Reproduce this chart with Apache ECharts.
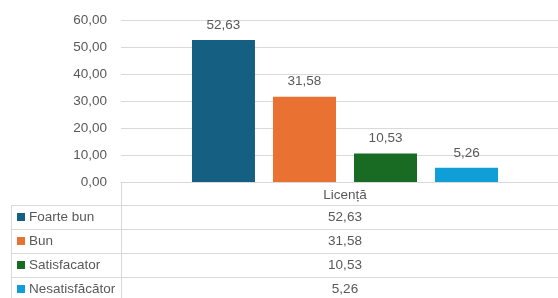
<!DOCTYPE html>
<html><head><meta charset="utf-8">
<script src="https://cdn.jsdelivr.net/npm/echarts@6/dist/echarts.min.js"></script>
<style>html,body{margin:0;padding:0;background:#fff}#c{width:558px;height:298px}</style>
</head><body><div id="c"></div>
<script>
const categories = ['Licență'];
const seriesNames = ['Foarte bun', 'Bun', 'Satisfacator', 'Nesatisfăcător'];
const seriesValues = [[52.63], [31.58], [10.53], [5.26]];
const seriesColors = ['#156082', '#E97132', '#196B24', '#0F9ED5'];
const yTicks = [0, 10, 20, 30, 40, 50, 60];

const fmt = v => v.toFixed(2).replace('.', ',');
const FONT = 'Liberation Sans';
const TXT = '#595959';
const LINE = '#d9d9d9';
const FS = 13.5;

const chart = echarts.init(document.getElementById('c'), null, {renderer: 'canvas'});

const gridLeft = 121, gridTop = 20, gridH = 162, gridW = 448;
const tableLeft = 11, rowH = 24, headerBottom = 205;

const series = seriesNames.map((n, i) => ({
  name: n, type: 'bar', data: seriesValues[i], barWidth: 63, barGap: '28.6%',
  itemStyle: {color: seriesColors[i]},
  label: {show: true, position: 'top', distance: 8, formatter: p => fmt(p.value),
    color: TXT, fontFamily: FONT, fontSize: FS}
}));

chart.setOption({
  animation: false,
  grid: {left: gridLeft, top: gridTop, width: gridW, height: gridH, containLabel: false, outerBoundsMode: 'none'},
  xAxis: {type: 'category', data: categories,
    axisLine: {show: true, lineStyle: {color: LINE}}, axisTick: {show: false},
    axisLabel: {color: TXT, fontFamily: FONT, fontSize: FS, margin: 6}},
  yAxis: {type: 'value', min: yTicks[0], max: yTicks[yTicks.length - 1], interval: 10,
    axisLine: {show: false}, axisTick: {show: false},
    splitLine: {lineStyle: {color: LINE}},
    axisLabel: {color: TXT, fontFamily: FONT, fontSize: FS, margin: 14, formatter: v => fmt(v)}},
  series: series
});

// data table below
const colCenter = chart.convertToPixel({xAxisIndex: 0}, categories[0]);
const g = [];
const axisY = gridTop + gridH;
const bottom = 320;
g.push({type: 'line', shape: {x1: gridLeft + 0.5, y1: axisY, x2: gridLeft + 0.5, y2: bottom}, style: {stroke: LINE, lineWidth: 1}});
g.push({type: 'line', shape: {x1: tableLeft + 0.5, y1: headerBottom, x2: tableLeft + 0.5, y2: bottom}, style: {stroke: LINE, lineWidth: 1}});
seriesNames.forEach((n, i) => {
  const yTop = headerBottom + i * rowH;
  g.push({type: 'line', shape: {x1: tableLeft, y1: yTop + 0.5, x2: 558, y2: yTop + 0.5}, style: {stroke: LINE, lineWidth: 1}});
  const cy = yTop + rowH / 2;
  g.push({type: 'rect', shape: {x: 17, y: cy - 4, width: 8, height: 8}, style: {fill: seriesColors[i]}});
  g.push({type: 'text', x: 29, y: cy, style: {text: n, fill: TXT, font: FS + 'px "' + FONT + '"', textVerticalAlign: 'middle', verticalAlign: 'middle'}});
  g.push({type: 'text', x: colCenter, y: cy, style: {text: fmt(seriesValues[i][0]), fill: TXT, font: FS + 'px "' + FONT + '"', textAlign: 'center', align: 'center', textVerticalAlign: 'middle', verticalAlign: 'middle'}});
});
chart.setOption({graphic: g});
</script></body></html>
